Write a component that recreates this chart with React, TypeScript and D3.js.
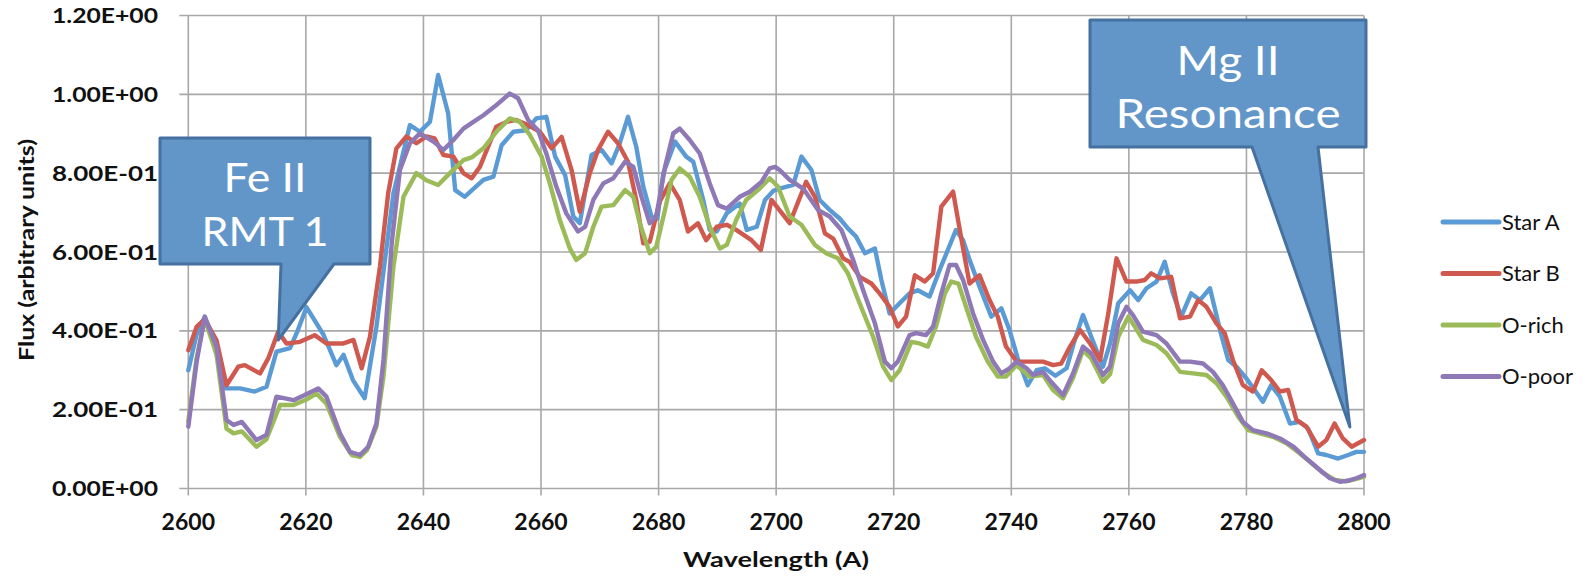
import React, { useEffect } from "react";
import * as d3 from "d3";

const seriesNames = ["Star A", "Star B", "O-rich", "O-poor"];
const seriesColors = ["#5b9bd5", "#d0594f", "#9bbb59", "#8e78b6"];

const xTicks = [2600, 2620, 2640, 2660, 2680, 2700, 2720, 2740, 2760, 2780, 2800];
const yTicks = [0, 0.2, 0.4, 0.6, 0.8, 1.0, 1.2];
const yTickLabels = ["0.00E+00", "2.00E-01", "4.00E-01", "6.00E-01", "8.00E-01", "1.00E+00", "1.20E+00"];

const starAWave = [2600, 2601.4, 2602.8, 2604.5, 2606.2, 2608.8, 2611.3, 2613.3, 2615, 2617.3, 2618.6, 2620.1, 2623, 2625.2, 2626.4, 2628, 2630, 2632, 2634.9, 2637.7, 2639.4, 2641.1, 2642.5, 2644.2, 2645.4, 2647, 2648.5, 2650.2, 2651.9, 2653.3, 2655.3, 2657.5, 2659.2, 2660.9, 2662.4, 2664.1, 2665.5, 2666.6, 2668.6, 2670.3, 2672, 2673.4, 2674.8, 2676.2, 2677.4, 2678.8, 2679.8, 2680.8, 2682.8, 2684.7, 2685.9, 2687.6, 2688.7, 2689.9, 2691.6, 2693.8, 2695, 2696.7, 2698.1, 2699.5, 2700.6, 2702.9, 2704.3, 2706, 2707.4, 2709.1, 2710.8, 2712.2, 2713.6, 2715.1, 2716.8, 2717.9, 2719.3, 2721, 2722.7, 2724.1, 2726.1, 2727.8, 2729.2, 2730.6, 2731.8, 2732.9, 2734.6, 2736.6, 2738.3, 2739.7, 2741.1, 2742.8, 2744.3, 2745.7, 2747.5, 2749.4, 2750.8, 2752.2, 2753.6, 2755.6, 2756.8, 2758.2, 2760.2, 2761.6, 2763, 2764.7, 2766.1, 2767.5, 2768.9, 2770.6, 2772.1, 2773.8, 2775.5, 2776.9, 2778.3, 2780, 2781.4, 2782.8, 2784.2, 2785.7, 2787.4, 2789.1, 2790.5, 2792.2, 2793.6, 2795.6, 2797.3, 2798.7, 2800];
const starAFlux = [0.30, 0.39, 0.436, 0.36, 0.254, 0.254, 0.246, 0.258, 0.347, 0.356, 0.40, 0.46, 0.39, 0.313, 0.339, 0.275, 0.229, 0.41, 0.749, 0.922, 0.905, 0.93, 1.049, 0.952, 0.757, 0.74, 0.76, 0.783, 0.791, 0.871, 0.905, 0.909, 0.939, 0.943, 0.842, 0.795, 0.69, 0.673, 0.846, 0.859, 0.825, 0.876, 0.943, 0.867, 0.766, 0.69, 0.685, 0.80, 0.88, 0.842, 0.829, 0.732, 0.656, 0.652, 0.698, 0.723, 0.656, 0.664, 0.732, 0.755, 0.761, 0.77, 0.842, 0.808, 0.732, 0.707, 0.685, 0.66, 0.639, 0.597, 0.609, 0.529, 0.444, 0.47, 0.495, 0.503, 0.487, 0.554, 0.605, 0.656, 0.63, 0.58, 0.512, 0.436, 0.457, 0.402, 0.33, 0.262, 0.30, 0.305, 0.286, 0.305, 0.377, 0.44, 0.385, 0.309, 0.368, 0.47, 0.503, 0.478, 0.508, 0.525, 0.575, 0.495, 0.436, 0.495, 0.478, 0.508, 0.402, 0.326, 0.309, 0.279, 0.25, 0.22, 0.262, 0.233, 0.165, 0.169, 0.152, 0.089, 0.085, 0.076, 0.085, 0.093, 0.093];

const starBWave = [2600, 2601.4, 2602.8, 2604.8, 2606.5, 2608.5, 2609.6, 2612.2, 2613.6, 2615.3, 2616.7, 2619, 2621.5, 2623.5, 2626.4, 2628.1, 2629.5, 2630.9, 2632.6, 2634, 2635.4, 2637.1, 2638.8, 2640.5, 2641.9, 2643.4, 2645.1, 2646.8, 2648.2, 2649.6, 2652.4, 2654.1, 2655.8, 2657.8, 2659.8, 2661.8, 2663.5, 2665.2, 2666.6, 2668.3, 2669.7, 2671.4, 2673.1, 2674.8, 2676.2, 2677.4, 2678.5, 2680.2, 2681.9, 2683.6, 2685, 2686.7, 2688.1, 2689.9, 2691.6, 2693.2, 2695.8, 2697.4, 2699.2, 2702.3, 2705.1, 2706.6, 2708.3, 2709.7, 2711.4, 2712.5, 2714.2, 2716.2, 2717.6, 2719.3, 2720.7, 2722.1, 2723.6, 2725.3, 2726.7, 2728.1, 2730.1, 2731.5, 2732.9, 2734.6, 2736.3, 2737.7, 2739.1, 2740.9, 2742.6, 2745.4, 2747.1, 2748.5, 2750, 2751.7, 2753.4, 2755.1, 2756.5, 2757.9, 2759.6, 2761.3, 2762.7, 2763.8, 2765.3, 2767.2, 2768.7, 2770.4, 2771.8, 2773.2, 2774.9, 2776.3, 2777.7, 2779.4, 2781.1, 2782.6, 2784.2, 2785.7, 2787.1, 2788.5, 2790.2, 2792.2, 2793.6, 2795, 2796.4, 2797.9, 2800];
const starBFlux = [0.351, 0.41, 0.43, 0.376, 0.262, 0.309, 0.313, 0.292, 0.33, 0.398, 0.368, 0.372, 0.389, 0.368, 0.368, 0.377, 0.305, 0.385, 0.563, 0.749, 0.863, 0.893, 0.876, 0.893, 0.888, 0.846, 0.842, 0.80, 0.787, 0.816, 0.918, 0.93, 0.935, 0.922, 0.905, 0.863, 0.892, 0.808, 0.702, 0.80, 0.859, 0.905, 0.876, 0.829, 0.732, 0.622, 0.626, 0.728, 0.774, 0.732, 0.652, 0.673, 0.63, 0.664, 0.669, 0.656, 0.63, 0.605, 0.732, 0.673, 0.778, 0.74, 0.647, 0.634, 0.584, 0.575, 0.537, 0.52, 0.495, 0.461, 0.411, 0.436, 0.541, 0.525, 0.546, 0.715, 0.753, 0.634, 0.52, 0.541, 0.478, 0.436, 0.36, 0.322, 0.322, 0.322, 0.313, 0.317, 0.36, 0.402, 0.368, 0.326, 0.444, 0.584, 0.525, 0.525, 0.529, 0.546, 0.533, 0.537, 0.432, 0.436, 0.478, 0.461, 0.419, 0.394, 0.326, 0.262, 0.246, 0.30, 0.275, 0.246, 0.25, 0.174, 0.157, 0.106, 0.123, 0.165, 0.127, 0.106, 0.123];

const oRichWave = [2600, 2601.4, 2602.8, 2604.8, 2606.5, 2607.7, 2609.1, 2611.6, 2613.3, 2615.6, 2617.9, 2620, 2621.8, 2623.5, 2625.8, 2627.8, 2629.2, 2630.4, 2632, 2633.2, 2634.9, 2636.6, 2638.8, 2640.5, 2642.5, 2644.5, 2646.8, 2648.2, 2650.2, 2652.4, 2654.7, 2656.4, 2658.1, 2660.1, 2661.5, 2663.2, 2664.9, 2666, 2667.5, 2668.9, 2670.3, 2672.3, 2674.3, 2675.7, 2676.8, 2678.5, 2679.6, 2681.1, 2682.2, 2683.6, 2685.3, 2687, 2688.7, 2690.4, 2691.6, 2693.2, 2694.9, 2697.2, 2698.9, 2700.3, 2702.3, 2704.3, 2706.6, 2708.5, 2710.5, 2712.2, 2714.2, 2716.5, 2718.2, 2719.6, 2721, 2723, 2724.4, 2725.8, 2727.2, 2728.7, 2729.8, 2731, 2732.3, 2734, 2736, 2737.7, 2739.1, 2740.9, 2743.1, 2745.4, 2747.1, 2748.8, 2750.5, 2752.2, 2753.6, 2755.6, 2756.8, 2758.2, 2759.9, 2761, 2762.4, 2764.7, 2766.4, 2768.7, 2770.9, 2773.2, 2774.9, 2776.6, 2778.6, 2780.3, 2782.3, 2784.5, 2786.8, 2789, 2791, 2793, 2795, 2797, 2799, 2800];
const oRichFlux = [0.17, 0.33, 0.43, 0.34, 0.152, 0.14, 0.145, 0.106, 0.125, 0.212, 0.212, 0.225, 0.241, 0.215, 0.131, 0.085, 0.08, 0.097, 0.157, 0.284, 0.563, 0.74, 0.80, 0.782, 0.77, 0.80, 0.833, 0.84, 0.863, 0.905, 0.939, 0.93, 0.897, 0.842, 0.774, 0.681, 0.609, 0.58, 0.597, 0.664, 0.715, 0.719, 0.757, 0.74, 0.673, 0.597, 0.613, 0.707, 0.783, 0.812, 0.791, 0.74, 0.664, 0.609, 0.618, 0.681, 0.732, 0.761, 0.787, 0.766, 0.69, 0.669, 0.618, 0.597, 0.584, 0.546, 0.47, 0.385, 0.309, 0.275, 0.30, 0.372, 0.368, 0.36, 0.411, 0.495, 0.525, 0.52, 0.461, 0.385, 0.322, 0.284, 0.284, 0.313, 0.284, 0.288, 0.25, 0.229, 0.28, 0.351, 0.33, 0.271, 0.29, 0.385, 0.436, 0.411, 0.377, 0.364, 0.343, 0.296, 0.292, 0.288, 0.267, 0.233, 0.182, 0.148, 0.14, 0.131, 0.115, 0.09, 0.065, 0.04, 0.022, 0.018, 0.026, 0.03];

const oPoorWave = [2600, 2601.4, 2602.8, 2604.8, 2606.5, 2607.7, 2609.1, 2611.6, 2613.3, 2615, 2617.9, 2619.8, 2622.1, 2623.5, 2625.8, 2627.5, 2629.2, 2630.6, 2632, 2633.2, 2634.6, 2636, 2637.7, 2639.4, 2641.7, 2643.4, 2645.1, 2646.8, 2648.5, 2650.2, 2652.1, 2654.7, 2656.1, 2657.8, 2659.5, 2660.9, 2662.6, 2664.3, 2666.3, 2667.5, 2668.9, 2670.6, 2672.3, 2674.3, 2675.7, 2677.1, 2678.5, 2679.6, 2681.1, 2682.5, 2683.6, 2685.3, 2687, 2688.7, 2690.1, 2691.6, 2693.8, 2695.5, 2697.5, 2698.9, 2699.8, 2700.6, 2702.3, 2704.6, 2707.1, 2709.1, 2711.1, 2713.1, 2714.8, 2716.8, 2718.5, 2719.6, 2720.7, 2722.7, 2723.8, 2725.5, 2726.7, 2728.1, 2729.5, 2730.6, 2731.8, 2733.5, 2735.2, 2736.9, 2738.3, 2739.7, 2740.9, 2742.6, 2743.7, 2745.4, 2746.8, 2748.8, 2750.5, 2752.2, 2753.6, 2755.6, 2756.8, 2758.2, 2759.6, 2760.7, 2762.4, 2764.7, 2766.4, 2768.7, 2770.4, 2772.6, 2774.3, 2776, 2777.7, 2779.4, 2781.1, 2783.4, 2785.7, 2788, 2790.2, 2792.5, 2794.2, 2795.9, 2797.6, 2798.7, 2800];
const oPoorFlux = [0.157, 0.32, 0.436, 0.36, 0.174, 0.161, 0.169, 0.123, 0.136, 0.233, 0.224, 0.237, 0.254, 0.233, 0.14, 0.093, 0.085, 0.106, 0.165, 0.326, 0.622, 0.808, 0.876, 0.901, 0.88, 0.859, 0.884, 0.913, 0.93, 0.947, 0.969, 1.002, 0.99, 0.935, 0.909, 0.85, 0.766, 0.698, 0.652, 0.664, 0.732, 0.774, 0.787, 0.829, 0.816, 0.74, 0.673, 0.69, 0.816, 0.901, 0.913, 0.884, 0.85, 0.774, 0.719, 0.71, 0.74, 0.753, 0.778, 0.812, 0.816, 0.808, 0.783, 0.761, 0.707, 0.69, 0.656, 0.58, 0.503, 0.419, 0.322, 0.305, 0.322, 0.389, 0.394, 0.389, 0.411, 0.495, 0.567, 0.567, 0.529, 0.444, 0.377, 0.322, 0.292, 0.305, 0.322, 0.305, 0.288, 0.296, 0.27, 0.237, 0.292, 0.36, 0.343, 0.288, 0.309, 0.419, 0.461, 0.44, 0.398, 0.389, 0.368, 0.322, 0.322, 0.317, 0.296, 0.262, 0.216, 0.169, 0.148, 0.14, 0.127, 0.106, 0.076, 0.047, 0.026, 0.017, 0.021, 0.026, 0.034];

const seriesWaves = [starAWave, starBWave, oRichWave, oPoorWave];
const seriesFluxes = [starAFlux, starBFlux, oRichFlux, oPoorFlux];

const calloutFe = ["Fe II", "RMT 1"];
const calloutMg = ["Mg II", "Resonance"];

const W = 1594;
const H = 578;
const margin = { left: 188.3, right: 1364, top: 15.5, bottom: 488.5 };

export default function App() {
  useEffect(() => {
    document.body.style.margin = "0";
  }, []);

  const x = d3.scaleLinear().domain([2600, 2800]).range([margin.left, margin.right]);
  const y = d3.scaleLinear().domain([0, 1.2]).range([margin.bottom, margin.top]);
  const line = d3
    .line<[number, number]>()
    .x((d) => x(d[0]))
    .y((d) => y(d[1]));

  const gridColor = "#a8a8a8";
  const font = "Lato, 'Open Sans', sans-serif";
  const boxFill = "#6396c8";
  const boxStroke = "#4571a0";

  const fe = { x0: 160, x1: 370, y0: 138, y1: 264, p0: 281, p1: 334, tx: x(2615.3), ty: 340 };
  const mg = { x0: 1090, x1: 1366, y0: 20, y1: 147, p0: 1252, p1: 1318, tx: x(2797.6), ty: 427 };
  const calloutPath = (c: any) =>
    `M${c.x0},${c.y0} L${c.x1},${c.y0} L${c.x1},${c.y1} L${c.p1},${c.y1} L${c.tx},${c.ty} L${c.p0},${c.y1} L${c.x0},${c.y1} Z`;

  return (
    <svg
      width={W}
      height={H}
      style={{ position: "absolute", left: 0, top: 0, background: "#fff" }}
      fontFamily={font}
    >
      {yTicks.map((t) => (
        <line key={"gy" + t} x1={margin.left - 9} x2={margin.right} y1={y(t)} y2={y(t)} stroke={gridColor} strokeWidth={1.6} />
      ))}
      {xTicks.map((t) => (
        <line key={"gx" + t} x1={x(t)} x2={x(t)} y1={margin.top} y2={margin.bottom + 7} stroke={gridColor} strokeWidth={1.6} />
      ))}
      {yTicks.map((t, i) => (
        <text
          key={"yl" + t}
          x={158}
          y={y(t)}
          dy="0.36em"
          textAnchor="end"
          fontSize={21}
          fontWeight={700}
          fill="#111"
          textLength={106}
          lengthAdjust="spacingAndGlyphs"
        >
          {yTickLabels[i]}
        </text>
      ))}
      {xTicks.map((t) => (
        <text key={"xl" + t} x={x(t)} y={530} textAnchor="middle" fontSize={23} fontWeight={700} fill="#111">
          {t}
        </text>
      ))}
      <text
        x={776}
        y={567}
        textAnchor="middle"
        fontSize={21}
        fontWeight={700}
        fill="#111"
        textLength={186}
        lengthAdjust="spacingAndGlyphs"
      >
        Wavelength (A)
      </text>
      <text
        transform="translate(34,250) rotate(-90)"
        textAnchor="middle"
        fontSize={21}
        fontWeight={700}
        fill="#111"
        textLength={222}
        lengthAdjust="spacingAndGlyphs"
      >
        Flux (arbitrary units)
      </text>

      {seriesNames.map((name, i) => {
        const pts = seriesWaves[i].map((w, j) => [w, seriesFluxes[i][j]] as [number, number]);
        return (
          <path
            key={name}
            d={line(pts) || ""}
            fill="none"
            stroke={seriesColors[i]}
            strokeWidth={4.4}
            strokeLinejoin="round"
            strokeLinecap="round"
          />
        );
      })}

      <path d={calloutPath(fe)} fill={boxFill} stroke={boxStroke} strokeWidth={3} strokeLinejoin="round" />
      <text x={265} y={191.5} textAnchor="middle" fontSize={40} fill="#fff" textLength={83} lengthAdjust="spacingAndGlyphs">
        {calloutFe[0]}
      </text>
      <text x={265} y={246} textAnchor="middle" fontSize={40} fill="#fff" textLength={127} lengthAdjust="spacingAndGlyphs">
        {calloutFe[1]}
      </text>
      <path d={calloutPath(mg)} fill={boxFill} stroke={boxStroke} strokeWidth={3} strokeLinejoin="round" />
      <text x={1228} y={75} textAnchor="middle" fontSize={40} fill="#fff" textLength={103} lengthAdjust="spacingAndGlyphs">
        {calloutMg[0]}
      </text>
      <text x={1228} y={128} textAnchor="middle" fontSize={40} fill="#fff" textLength={225} lengthAdjust="spacingAndGlyphs">
        {calloutMg[1]}
      </text>

      {seriesNames.map((name, i) => {
        const ly = 222 + i * 51.5;
        return (
          <g key={"lg" + name}>
            <line x1={1443} x2={1499} y1={ly} y2={ly} stroke={seriesColors[i]} strokeWidth={5} strokeLinecap="round" />
            <text x={1502} y={ly} dy="0.36em" fontSize={22} fill="#111">
              {name}
            </text>
          </g>
        );
      })}
    </svg>
  );
}
